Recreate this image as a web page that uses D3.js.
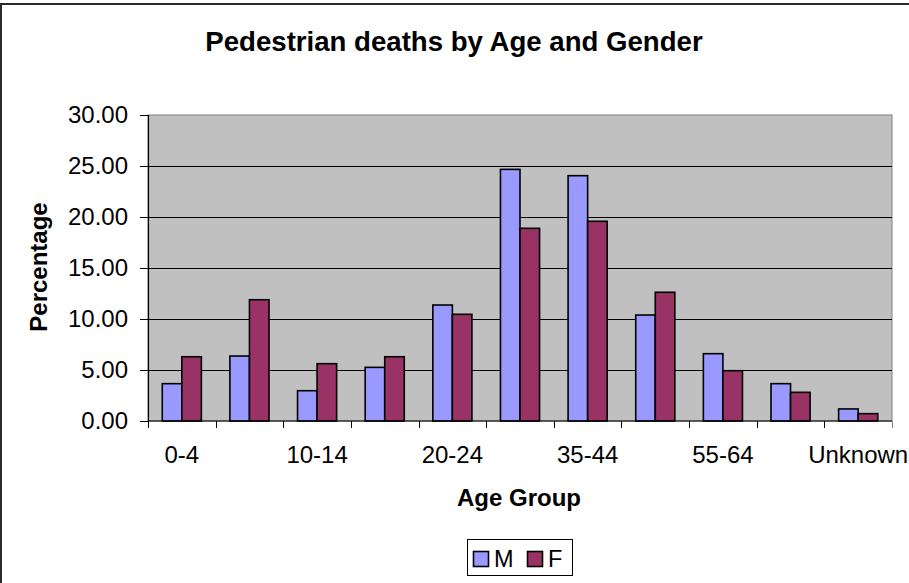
<!DOCTYPE html>
<html>
<head>
<meta charset="utf-8">
<script src="https://cdn.jsdelivr.net/npm/d3@7"></script>
<style>
  html, body { margin: 0; padding: 0; background: #fff; }
  svg { display: block; font-family: "Liberation Sans", Arial, sans-serif; }
</style>
</head>
<body>
<svg id="chart" width="909" height="583"></svg>
<script>
// Age groups and percentage of pedestrian deaths by gender
const categories = ["0-4", "5-9", "10-14", "15-19", "20-24", "25-34", "35-44", "45-54", "55-64", "65-74", "Unknown"];
const seriesNames = ["M", "F"];
const maleValues   = [3.66, 6.37, 2.97, 5.26, 11.37, 24.67, 24.05, 10.39, 6.60, 3.66, 1.18];
const femaleValues = [6.30, 11.89, 5.62, 6.30, 10.46, 18.89, 19.58, 12.62, 4.93, 2.81, 0.72];
const yTicks = [0, 5, 10, 15, 20, 25, 30];
const shownLabels = ["0-4", "10-14", "20-24", "35-44", "55-64", "Unknown"];

const colors = { M: "#9999FF", F: "#993366" };
const valuesBySeries = { M: maleValues, F: femaleValues };

const svg = d3.select("#chart");
const W = 909, H = 583;
const plot = { left: 148, right: 892, top: 115, bottom: 421 };
const FONT = "'Liberation Sans', Arial, sans-serif";

// Outer chart frame (extends past the visible area on right and bottom)
svg.append("rect")
  .attr("x", 1).attr("y", 4)
  .attr("width", W + 20).attr("height", H + 20)
  .attr("fill", "#fff").attr("stroke", "#2a2a2a").attr("stroke-width", 2);

const x0 = d3.scaleBand().domain(categories).range([plot.left, plot.right]).padding(0);
const groupW = x0.bandwidth() / 1.73;
const x1 = d3.scaleBand().domain(seriesNames).range([0, groupW]).padding(0);
const y = d3.scaleLinear().domain([0, 30]).range([plot.bottom, plot.top]);

// Plot area background
svg.append("rect")
  .attr("x", plot.left).attr("y", plot.top)
  .attr("width", plot.right - plot.left).attr("height", plot.bottom - plot.top)
  .attr("fill", "#C0C0C0").attr("stroke", "#808080").attr("stroke-width", 1);

// Horizontal gridlines
svg.append("g")
  .selectAll("line")
  .data(yTicks.filter(v => v > 0 && v < 30))
  .join("line")
  .attr("x1", plot.left).attr("x2", plot.right)
  .attr("y1", d => Math.round(y(d)) + 0.5).attr("y2", d => Math.round(y(d)) + 0.5)
  .attr("stroke", "#000").attr("stroke-width", 1);

// Bars
const groups = svg.append("g")
  .selectAll("g")
  .data(categories)
  .join("g")
  .attr("transform", d => `translate(${x0(d) + (x0.bandwidth() - groupW) / 2},0)`);

groups.selectAll("rect")
  .data((d, i) => seriesNames.map(s => ({ s, v: valuesBySeries[s][i] })))
  .join("rect")
  .attr("x", d => x1(d.s))
  .attr("y", d => y(d.v))
  .attr("width", x1.bandwidth())
  .attr("height", d => y(0) - y(d.v))
  .attr("fill", d => colors[d.s])
  .attr("stroke", "#000")
  .attr("stroke-width", 1.6);

// Y axis
const yAxis = d3.axisLeft(y)
  .tickValues(yTicks)
  .tickFormat(d3.format(".2f"))
  .tickSize(8)
  .tickPadding(12);
const yg = svg.append("g")
  .attr("transform", `translate(${plot.left},0)`)
  .call(yAxis);
yg.select(".domain").attr("stroke", "#000").attr("stroke-width", 1.2);
yg.selectAll(".tick line").attr("stroke", "#000");
yg.selectAll("text")
  .attr("font-size", 24)
  .attr("fill", "#000")
  .style("font-family", FONT);

// X axis: category labels on every other group, ticks at group boundaries
const xAxis = d3.axisBottom(x0)
  .tickFormat(d => shownLabels.includes(d) ? d : "")
  .tickSize(0)
  .tickPadding(25);
const xg = svg.append("g")
  .attr("transform", `translate(0,${plot.bottom})`)
  .call(xAxis);
xg.select(".domain").remove();
xg.selectAll("text")
  .attr("font-size", 24)
  .attr("fill", "#000")
  .style("font-family", FONT);

svg.append("line")
  .attr("x1", plot.left).attr("x2", plot.right)
  .attr("y1", plot.bottom).attr("y2", plot.bottom)
  .attr("stroke", "#000").attr("stroke-width", 1.2);

const boundaries = categories.map(c => x0(c)).concat([plot.right]);
svg.append("g")
  .selectAll("line")
  .data(boundaries)
  .join("line")
  .attr("x1", d => Math.round(d) + 0.5).attr("x2", d => Math.round(d) + 0.5)
  .attr("y1", plot.bottom).attr("y2", plot.bottom + 7)
  .attr("stroke", (d, i) => i === boundaries.length - 1 ? "#808080" : "#000")
  .attr("stroke-width", 1);

// Titles
svg.append("text")
  .attr("x", 454).attr("y", 51)
  .attr("text-anchor", "middle")
  .attr("font-size", 27.6).attr("font-weight", "bold")
  .text("Pedestrian deaths by Age and Gender");

svg.append("text")
  .attr("x", 519).attr("y", 506)
  .attr("text-anchor", "middle")
  .attr("font-size", 24).attr("font-weight", "bold")
  .text("Age Group");

svg.append("text")
  .attr("transform", "translate(47,267) rotate(-90)")
  .attr("text-anchor", "middle")
  .attr("font-size", 24).attr("font-weight", "bold")
  .text("Percentage");

// Legend
const legend = svg.append("g");
legend.append("rect")
  .attr("x", 467.5).attr("y", 539.5).attr("width", 105).attr("height", 36)
  .attr("fill", "#fff").attr("stroke", "#000").attr("stroke-width", 1);
const legendItems = [{ s: "M", x: 473 }, { s: "F", x: 527 }];
legendItems.forEach(it => {
  legend.append("rect")
    .attr("x", it.x + 0.5).attr("y", 551.5).attr("width", 15).attr("height", 15)
    .attr("fill", colors[it.s]).attr("stroke", "#000").attr("stroke-width", 1.6);
  legend.append("text")
    .attr("x", it.x + 21).attr("y", 567)
    .attr("font-size", 23.5)
    .text(it.s);
});
</script>
</body>
</html>
